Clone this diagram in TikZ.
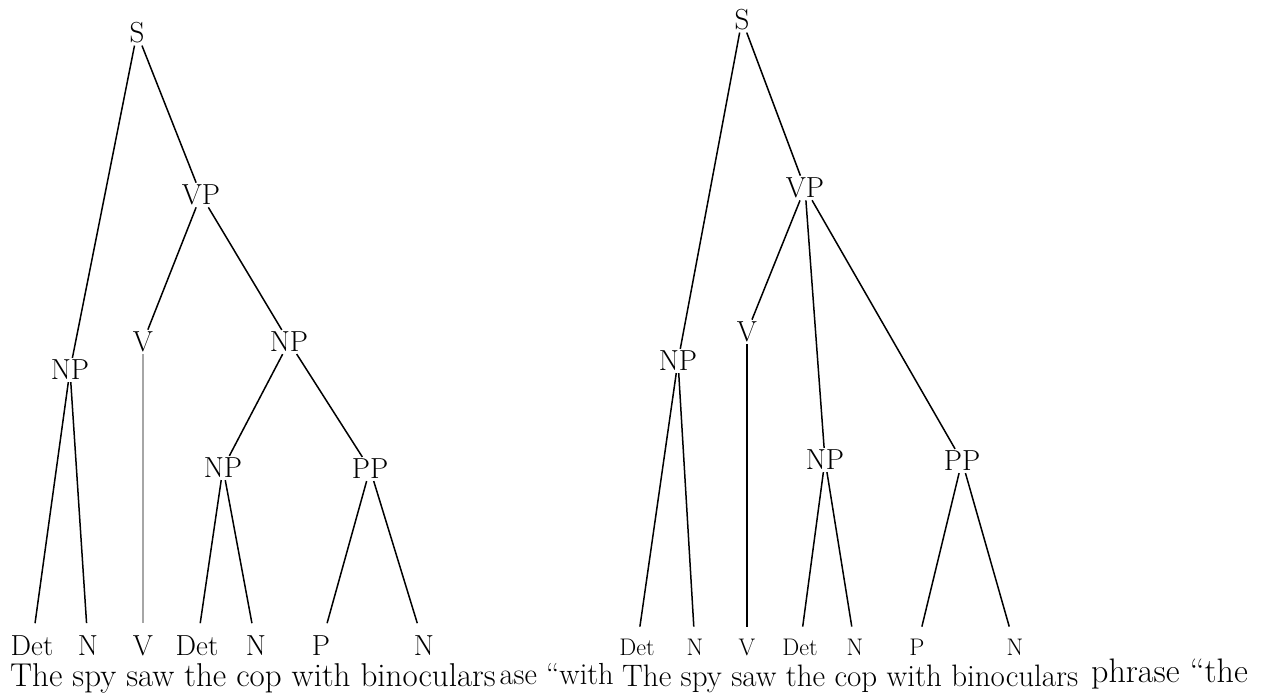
\documentclass[tikz,border=0pt]{standalone}
\usepackage{fontspec}
\newcommand\tsize[1]{\fontsize{#1}{#1}\selectfont}
\begin{document}
\begin{tikzpicture}[x=1pt, y=-1pt,
    cat/.style={font=\tsize{29}, inner sep=2pt},
    leaf/.style={font=\tsize{29}, inner sep=0pt, outer ysep=12pt, anchor=base},
    rleaf/.style={leaf, font=\tsize{24}},
    sent/.style={anchor=base west, inner sep=0pt},
    edge/.style={line width=1.5pt},
  ]
  \useasboundingbox (0,0) rectangle (1266,700);
  % running text behind the two trees
  \begin{scope}
    \clip (499,600) rectangle (620,700);
    \node[anchor=base east, inner sep=0pt, font=\tsize{30.5}] (txtA) at (614,684) {ase “with};
  \end{scope}
  \node[sent, font=\tsize{34}] (txtB) at (1091,682) {phrase “the};

  % left tree
  \node[cat] (lS)   at (137,33)  {S};
  \node[cat] (lVP)  at (201,195) {VP};
  \node[cat] (lNP)  at (70,370)  {NP};
  \node[cat] (lV)   at (143,342) {V};
  \node[cat] (lNPo) at (289,342) {NP};
  \node[cat] (lNPd) at (223,468) {NP};
  \node[cat] (lPP)  at (370,469) {PP};
  \node[leaf] (lDet)  at (32,655)  {Det};
  \node[leaf] (lN)    at (88,655)  {N};
  \node[leaf] (lVl)   at (143,655) {V};
  \node[leaf] (lDet2) at (197,655) {Det};
  \node[leaf] (lN2)   at (256,655) {N};
  \node[leaf] (lP)    at (321,655) {P};
  \node[leaf] (lN3)   at (424,655) {N};
  \node[sent, font=\tsize{33}] (lSent) at (10,686) {The spy saw the cop with binoculars};
  \draw[edge] (lS) -- (lNP);
  \draw[edge] (lS) -- (lVP);
  \draw[edge] (lVP) -- (lV);
  \draw[edge] (lVP) -- (lNPo);
  \draw[edge] (lNPo) -- (lNPd);
  \draw[edge] (lNPo) -- (lPP);
  \draw[edge] (lNP) -- (lDet);
  \draw[edge] (lNP) -- (lN);
  \draw[edge, gray!70] (lV) -- (lVl);
  \draw[edge] (lNPd) -- (lDet2);
  \draw[edge] (lNPd) -- (lN2);
  \draw[edge] (lPP) -- (lP);
  \draw[edge] (lPP) -- (lN3);

  % right tree
  \node[cat] (rS)   at (742,20)  {S};
  \node[cat] (rVP)  at (805,188) {VP};
  \node[cat] (rNP)  at (678,361) {NP};
  \node[cat] (rV)   at (747,332) {V};
  \node[cat] (rNPd) at (825,460) {NP};
  \node[cat] (rPP)  at (962,461) {PP};
  \node[rleaf] (rDet)  at (637,655)  {Det};
  \node[rleaf] (rN)    at (695,655)  {N};
  \node[rleaf] (rVl)   at (747,655)  {V};
  \node[rleaf] (rDet2) at (800,655)  {Det};
  \node[rleaf] (rN2)   at (855,655)  {N};
  \node[rleaf] (rP)    at (917,655)  {P};
  \node[rleaf] (rN3)   at (1015,655) {N};
  \node[sent, font=\tsize{31}] (rSent) at (622,686) {The spy saw the cop with binoculars};
  \draw[edge] (rS) -- (rNP);
  \draw[edge] (rS) -- (rVP);
  \draw[edge] (rVP) -- (rV);
  \draw[edge] (rVP) -- (rNPd);
  \draw[edge] (rVP) -- (rPP);
  \draw[edge] (rNP) -- (rDet);
  \draw[edge] (rNP) -- (rN);
  \draw[edge] (rV) -- (rVl);
  \draw[edge] (rNPd) -- (rDet2);
  \draw[edge] (rNPd) -- (rN2);
  \draw[edge] (rPP) -- (rP);
  \draw[edge] (rPP) -- (rN3);
\end{tikzpicture}
\end{document}
